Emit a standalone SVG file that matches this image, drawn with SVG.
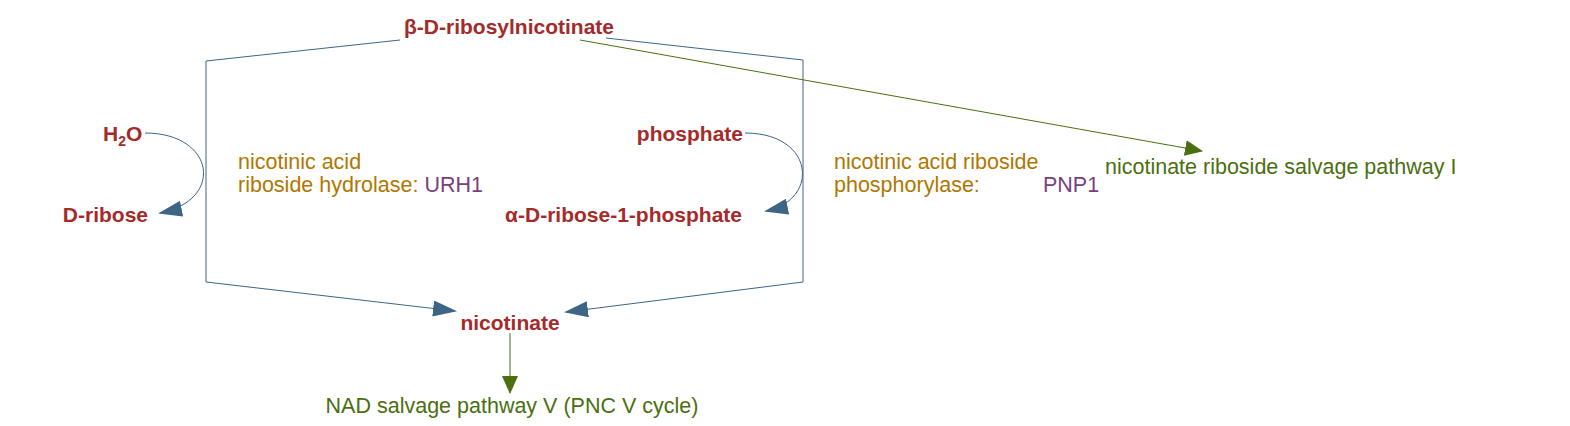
<svg xmlns="http://www.w3.org/2000/svg" width="1570" height="426" viewBox="0 0 1570 426">
<style>
.c{font-family:"Liberation Sans",Arial,sans-serif;font-size:21px;font-weight:bold;fill:#a52a2a}
.e{font-family:"Liberation Sans",Arial,sans-serif;font-size:21.5px;fill:#b07700}
.g{font-family:"Liberation Sans",Arial,sans-serif;font-size:21.5px;fill:#4a6f10}
.p{font-family:"Liberation Sans",Arial,sans-serif;font-size:21.5px;fill:#7b3f7f}
.b{fill:none;stroke:#3d6585;stroke-width:1}
.gl{fill:none;stroke:#4a7010;stroke-width:1}
</style>
<defs>
<marker id="ab" markerWidth="24" markerHeight="16" refX="22" refY="8" orient="auto" markerUnits="userSpaceOnUse"><path d="M0,0 L24,8 L0,16 Z" fill="#3d6585"/></marker>
<marker id="ag" markerWidth="18" markerHeight="16" refX="17" refY="8" orient="auto" markerUnits="userSpaceOnUse"><path d="M0,0 L18,8 L0,16 Z" fill="#4a7010"/></marker>
</defs>
<g id="connectors">
<path class="b" d="M400,40 L206,61 L206,282 L455,311" marker-end="url(#ab)"/>
<path class="b" d="M606,38 L803,60 L803,282 L566,312" marker-end="url(#ab)"/>
<path class="b" d="M145,133 C215,133 225,200 160,213" marker-end="url(#ab)"/>
<path class="b" d="M745,133 C815,133 820,200 766,211" marker-end="url(#ab)"/>
<path class="gl" d="M580,40 L1202,151" marker-end="url(#ag)"/>
<path class="gl" d="M510,333 L510,393" marker-end="url(#ag)"/>
</g>
<g id="n1"><text class="c" x="509" y="34" text-anchor="middle">β-D-ribosylnicotinate</text></g>
<g id="n2"><text class="c" x="103" y="141">H<tspan font-size="14" dy="5">2</tspan><tspan dy="-5">O</tspan></text></g>
<g id="n3"><text class="c" x="148" y="222" text-anchor="end">D-ribose</text></g>
<g id="n4"><text class="c" x="743" y="141" text-anchor="end">phosphate</text></g>
<g id="n5"><text class="c" x="742" y="222" text-anchor="end">α-D-ribose-1-phosphate</text></g>
<g id="n6"><text class="c" x="510" y="330" text-anchor="middle">nicotinate</text></g>
<g id="n7"><text class="g" x="512" y="413" text-anchor="middle">NAD salvage pathway V (PNC V cycle)</text></g>
<g id="n8"><text class="g" x="1105" y="174">nicotinate riboside salvage pathway I</text></g>
<g id="e1"><text class="e" x="238" y="169">nicotinic acid</text><text class="e" x="238" y="192">riboside hydrolase: <tspan class="p">URH1</tspan></text></g>
<g id="e2"><text class="e" x="834" y="169">nicotinic acid riboside</text><text class="e" x="834" y="192">phosphorylase:</text><text class="p" x="1043" y="192">PNP1</text></g>
</svg>
